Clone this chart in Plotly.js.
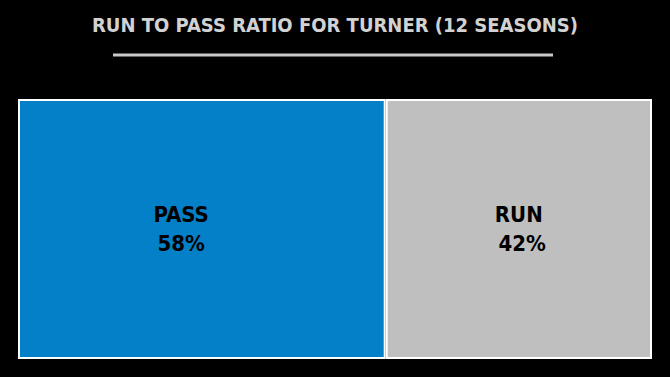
<!DOCTYPE html>
<html><head><meta charset="utf-8">
<script src="https://cdn.plot.ly/plotly-3.0.1.min.js"></script>
<style>html,body{margin:0;padding:0;background:#000;}#chart{width:670px;height:377px;}</style>
</head><body><div id="chart"></div>
<script>
const categories = ["PASS", "RUN"];
const shares = [58, 42];
const shareLabels = ["58%", "\u00a042%"];
const tileColors = ["#0380C7", "#BFBFBF"];

const FONT = "'DejaVu Sans Condensed', 'DejaVu Sans', sans-serif";
const NB = "\u00a0".repeat(6);

const trace = {
  type: "treemap",
  labels: categories,
  parents: categories.map(() => ""),
  values: shares,
  text: shareLabels,
  textinfo: "label+text",
  texttemplate: ["%{label}" + NB + "<br>%{text}" + NB, "%{label}<br>%{text}"],
  textposition: "middle center",
  textfont: {family: FONT, size: 22, color: "#000", weight: 700},
  marker: {colors: tileColors, line: {color: "#FFFFFF", width: 2}, pad: {t: 0, l: 0, r: 0, b: 0}},
  pathbar: {visible: false},
  tiling: {pad: 2},
  sort: true,
  hoverinfo: "none",
  domain: {x: [19/670, 651/670], y: [(377-358)/377, (377-100)/377]}
};

const layout = {
  width: 670, height: 377,
  paper_bgcolor: "#000", plot_bgcolor: "#000",
  margin: {l: 0, r: 0, t: 0, b: 0},
  title: {
    text: "RUN TO PASS RATIO FOR TURNER (12 SEASONS)",
    font: {family: FONT, size: 20, color: "#D2D2D2", weight: 700},
    x: 0.5, xanchor: "center", y: 1 - 25/377, yanchor: "middle", yref: "paper"
  },
  shapes: [{type: "line", xref: "paper", yref: "paper",
    x0: 113/670, x1: 553/670, y0: 1 - 55/377, y1: 1 - 55/377,
    line: {color: "#C8C8C8", width: 3}}],
  treemapcolorway: tileColors
};

Plotly.newPlot("chart", [trace], layout, {displayModeBar: false, staticPlot: true});
</script></body></html>
